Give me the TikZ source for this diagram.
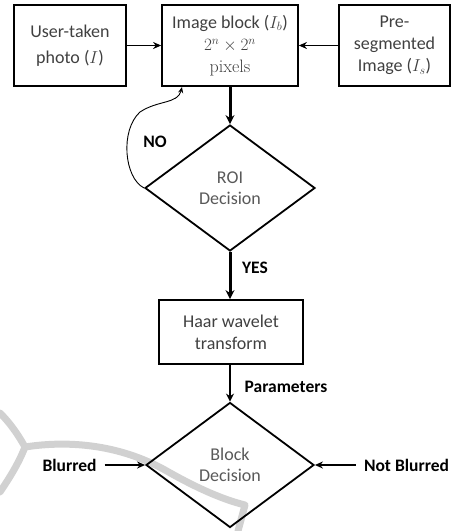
\documentclass[tikz,border=0pt]{standalone}
\usepackage{fontspec}
\setmainfont{Carlito}
\usetikzlibrary{arrows.meta,shapes.geometric}
\tikzset{
  box/.style={draw=black, line width=1.8pt, rectangle, inner sep=0pt, align=center, text=black!75, font=\fontsize{18}{22}\selectfont},
  dia/.style={draw=black, line width=1.8pt, diamond, inner sep=0pt},
  diatext/.style={align=center, inner sep=0pt, text=black!65, font=\fontsize{18}{21}\selectfont},
  lbl/.style={font=\fontsize{17.5}{20}\selectfont\bfseries, inner sep=0pt, text=black},
  arr/.style={draw=black, line width=1.5pt, -{Stealth[length=8pt,width=7pt]}},
  tharr/.style={draw=black, line width=3pt, -{Stealth[length=9pt,width=9pt]}},
  marr/.style={draw=black, line width=2.2pt, -{Stealth[length=8pt,width=8pt]}},
  curv/.style={draw=black, line width=0.9pt, -{Stealth[length=6pt,width=5pt]}},
  wm/.style={draw=black!18, line width=7pt, line cap=round, line join=round}
}
\begin{document}
\begin{tikzpicture}[x=1pt,y=-1pt]
\useasboundingbox (0,0) rectangle (456,531);
% watermark
\draw[wm] (0,413) .. controls (12,425) and (20,438) .. (25,447);
\draw[wm] (25,447) .. controls (18,465) and (8,480) .. (0,492);
\draw[wm] (25,447) .. controls (70,440) and (120,445) .. (165,470)
  .. controls (200,490) and (225,500) .. (245,505) -- (238,531);
% boxes
\node[box, minimum width=112pt, minimum height=81pt, font=\fontsize{18}{26}\selectfont] (user) at (70,45.5) {User-taken\\photo ($I$)};
\node[box, minimum width=136pt, minimum height=81pt] (block) at (230,45.5) {Image block ($I_b$)\\$2^n\times 2^n$\\{\usefont{TU}{lmr}{m}{n}pixels}};
\node[box, minimum width=111pt, minimum height=81pt] (pre) at (394.5,45.5) {Pre-\\segmented\\Image ($I_s$)};
\node[dia, minimum width=170pt, minimum height=126pt] (roi) at (230,188) {};
\node[diatext] (roitxt) at (roi.center) {ROI\\Decision};
\node[box, minimum width=144pt, minimum height=64pt] (haar) at (231,332) {Haar wavelet\\transform};
\node[dia, minimum width=168pt, minimum height=125pt] (bd) at (230,465) {};
\node[diatext] (bdtxt) at (bd.center) {Block\\Decision};
% labels
\node[lbl] (no) at (155,142) {NO};
\node[lbl] (yes) at (255,268) {YES};
\node[lbl] (par) at (286,387) {Parameters};
\node[lbl] (blur) at (69.5,465) {Blurred};
\node[lbl] (nblur) at (406.5,465) {Not Blurred};
\coordinate (noend) at (182,87);
% connectors
\draw[arr] (user) -- (block);
\draw[arr] (pre) -- (block);
\draw[tharr] (block.south -| roi.north) -- (roi.north);
\draw[tharr] (roi.south) -- (roi.south |- haar.north);
\draw[marr] (haar.south -| bd.north) -- (bd.north);
\draw[arr] (blur.east) ++(8,0) -- (bd.west);
\draw[arr] (nblur.west) ++(-8,0) -- (bd.east);
\draw[curv] (roi.west) .. controls (124,178) and (120,130) .. (140,112)
  .. controls (158,100) and (178,104) .. (noend);
\end{tikzpicture}
\end{document}
